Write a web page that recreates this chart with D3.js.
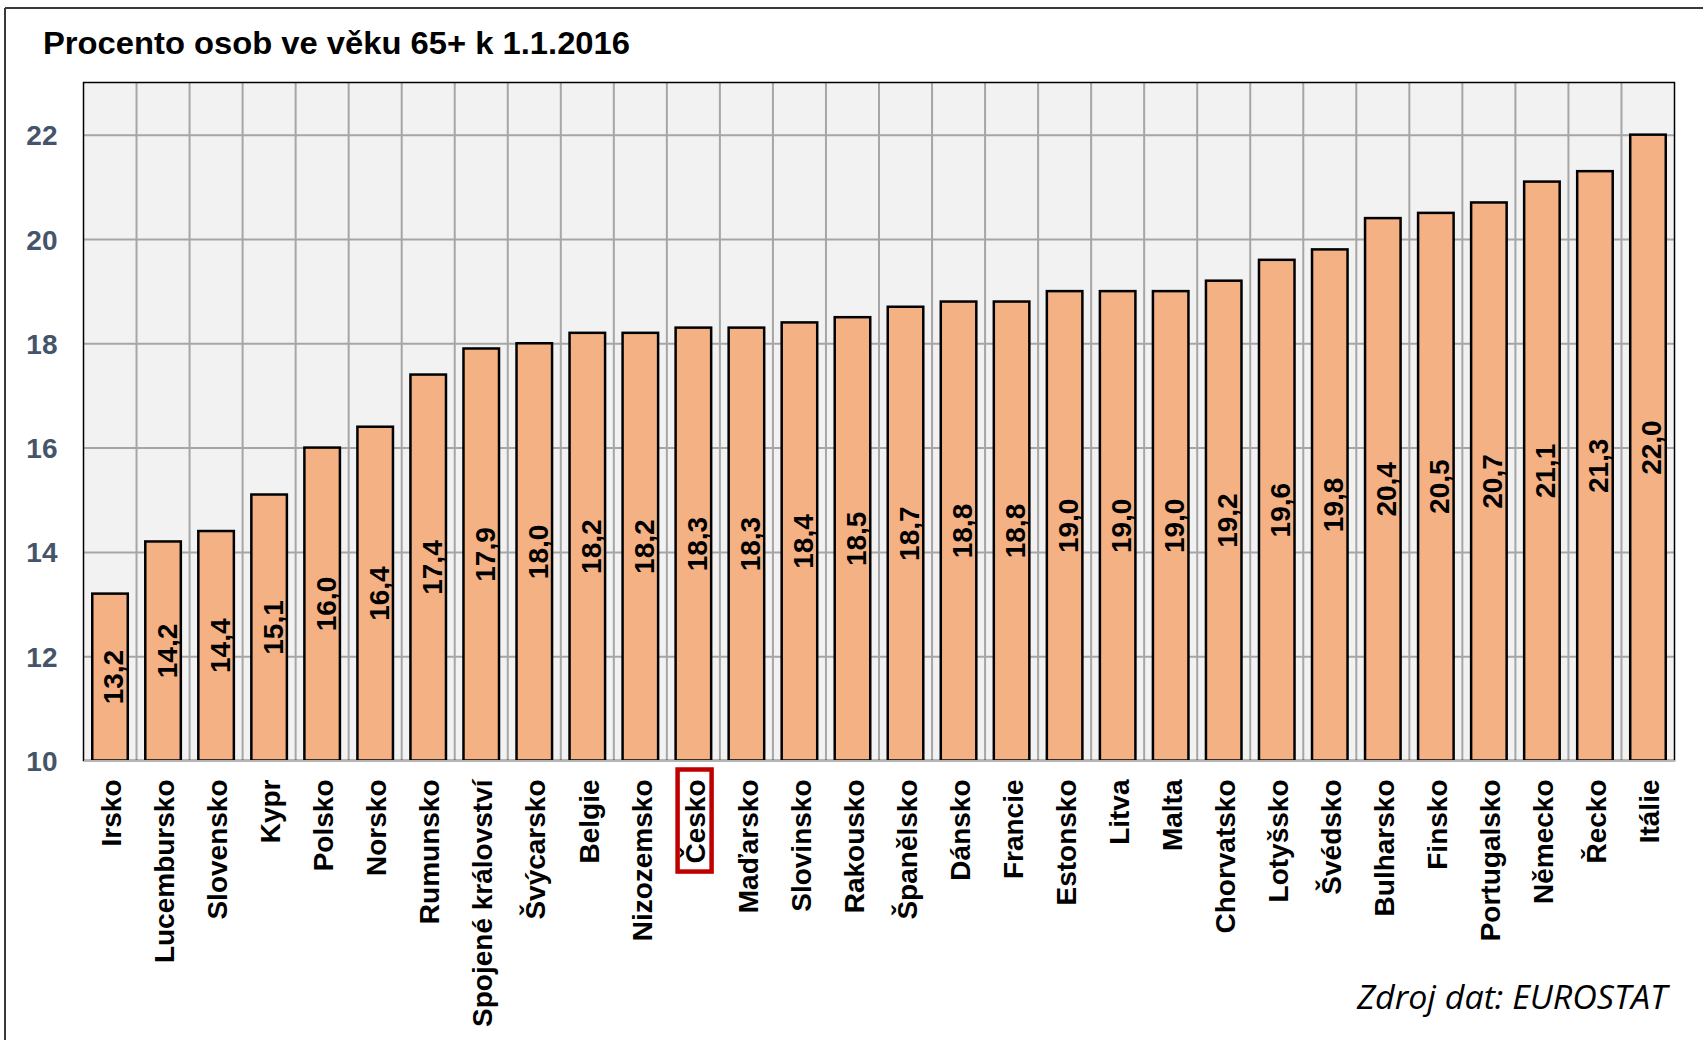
<!DOCTYPE html>
<html>
<head>
<meta charset="utf-8">
<script src="https://cdn.jsdelivr.net/npm/d3@7"></script>
<style>
  body { margin: 0; background: #ffffff; }
  svg { display: block; font-family: "Liberation Sans", Arial, sans-serif; }
  .y-axis text { font-size: 28px; font-weight: bold; fill: #44546A; }
  .x-axis text { font-size: 28px; font-weight: bold; fill: #000000; }
  .bar-label   { font-size: 28px; font-weight: bold; fill: #000000; }
</style>
</head>
<body>
<svg></svg>
<script>
// Countries, sorted by share of people aged 65+
var countries = ['Irsko','Lucembursko','Slovensko','Kypr','Polsko','Norsko','Rumunsko','Spojené království',
                 'Švýcarsko','Belgie','Nizozemsko','Česko','Maďarsko','Slovinsko','Rakousko','Španělsko',
                 'Dánsko','Francie','Estonsko','Litva','Malta','Chorvatsko','Lotyšsko','Švédsko',
                 'Bulharsko','Finsko','Portugalsko','Německo','Řecko','Itálie'];

// Percent of population 65+ on 1.1.2016
var values = [13.2, 14.2, 14.4, 15.1, 16.0, 16.4, 17.4, 17.9, 18.0, 18.2, 18.2, 18.3, 18.3, 18.4, 18.5, 18.7,
              18.8, 18.8, 19.0, 19.0, 19.0, 19.2, 19.6, 19.8, 20.4, 20.5, 20.7, 21.1, 21.3, 22.0];

var yTicks = [10, 12, 14, 16, 18, 20, 22];
var yDomain = [10, 23];
var highlighted = 'Česko';

var titleText  = 'Procento osob ve věku 65+ k 1.1.2016';
var sourceText = 'Zdroj dat: EUROSTAT';

var svgWidth = 1703, svgHeight = 1040;
var plot = { left: 83.5, right: 1674.5, top: 82.5, bottom: 760.5 };

var svg = d3.select('svg')
    .attr('width', svgWidth)
    .attr('height', svgHeight);

// outer frame of the picture: only the top and left edges are visible
var frame = svg.append('g').attr('class', 'frame');
frame.append('line')
    .attr('x1', 5).attr('y1', 8).attr('x2', svgWidth).attr('y2', 8)
    .attr('stroke', '#3a3a3a').attr('stroke-width', 2);
frame.append('line')
    .attr('x1', 5).attr('y1', 8).attr('x2', 5).attr('y2', svgHeight)
    .attr('stroke', '#3a3a3a').attr('stroke-width', 2);

svg.append('text')
    .attr('x', 43)
    .attr('y', 54)
    .attr('textLength', 587)
    .attr('lengthAdjust', 'spacingAndGlyphs')
    .style('font-size', '31px')
    .style('font-weight', 'bold')
    .attr('fill', '#000')
    .text(titleText);

var yScale = d3.scaleLinear()
    .domain(yDomain)
    .range([plot.bottom, plot.top]);

var xScale = d3.scaleBand()
    .domain(countries)
    .range([plot.left, plot.right])
    .paddingInner(0.33)
    .paddingOuter(0.165);

var innerWidth = plot.right - plot.left;
var innerHeight = plot.bottom - plot.top;

// plot background
svg.append('rect')
    .attr('x', plot.left).attr('y', plot.top)
    .attr('width', innerWidth).attr('height', innerHeight)
    .attr('fill', '#F2F2F2');

// vertical gridlines between categories
var step = xScale.step();
svg.append('g')
    .attr('class', 'v-grid')
    .selectAll('line')
    .data(countries.slice(1))
    .enter()
    .append('line')
    .attr('x1', function (d) { return xScale(d) - (step - xScale.bandwidth()) / 2; })
    .attr('x2', function (d) { return xScale(d) - (step - xScale.bandwidth()) / 2; })
    .attr('y1', plot.top)
    .attr('y2', plot.bottom)
    .attr('stroke', '#A6A6A6')
    .attr('stroke-width', 2);

// y axis with horizontal gridlines
var yAxis = d3.axisLeft(yScale)
    .tickValues(yTicks)
    .tickSize(-innerWidth)
    .tickPadding(26);

var yG = svg.append('g')
    .attr('class', 'y-axis')
    .attr('transform', 'translate(' + plot.left + ',0)')
    .call(yAxis);
yG.select('.domain').remove();
yG.selectAll('.tick line')
    .attr('stroke', function (d) { return d === yDomain[0] ? 'none' : '#A6A6A6'; })
    .attr('stroke-width', 2);
yG.selectAll('.tick text').attr('dy', '0.36em');

// plot border
svg.append('rect')
    .attr('x', plot.left).attr('y', plot.top)
    .attr('width', innerWidth).attr('height', innerHeight)
    .attr('fill', 'none')
    .attr('stroke', '#000')
    .attr('stroke-width', 1.5);

// bars
svg.append('g')
    .selectAll('rect')
    .data(values)
    .enter()
    .append('rect')
    .attr('x', function (d, i) { return xScale(countries[i]); })
    .attr('y', function (d) { return yScale(d); })
    .attr('width', xScale.bandwidth())
    .attr('height', function (d) { return yScale(yDomain[0]) - yScale(d); })
    .attr('fill', '#F4B183')
    .attr('stroke', '#000')
    .attr('stroke-width', 2.5);

// value labels, rotated and centred in the bar
var fmt = d3.format('.1f');
svg.append('g')
    .selectAll('text')
    .data(values)
    .enter()
    .append('text')
    .attr('class', 'bar-label')
    .attr('transform', function (d, i) {
        var cx = xScale(countries[i]) + xScale.bandwidth() / 2;
        var cy = (yScale(d) + yScale(yDomain[0])) / 2;
        return 'translate(' + cx + ',' + cy + ') rotate(-90)';
    })
    .attr('text-anchor', 'middle')
    .attr('dy', '0.48em')
    .text(function (d) { return fmt(d).replace('.', ','); });

// x axis
var xAxis = d3.axisBottom(xScale).tickSize(0);
var xG = svg.append('g')
    .attr('class', 'x-axis')
    .attr('transform', 'translate(0,' + plot.bottom + ')')
    .call(xAxis);
xG.select('.domain')
    .attr('stroke', '#B4B4B4')
    .attr('stroke-width', 2);
xG.selectAll('.tick text')
    .attr('transform', 'rotate(-90)')
    .attr('x', -19)
    .attr('y', 0)
    .attr('dy', '0.4em')
    .style('text-anchor', 'end');

// red box round the highlighted country
xG.selectAll('.tick')
    .filter(function (d) { return d === highlighted; })
    .each(function () {
        var t = d3.select(this).select('text');
        var bb = t.node().getBBox();
        d3.select(this).append('rect')
            .attr('transform', 'rotate(-90)')
            .attr('x', bb.x - 8)
            .attr('y', bb.y - 1)
            .attr('width', bb.width + 18)
            .attr('height', bb.height + 2)
            .attr('fill', 'none')
            .attr('stroke', '#C00000')
            .attr('stroke-width', 4.5);
    });

// source note
svg.append('text')
    .attr('x', 1667)
    .attr('y', 1009)
    .attr('text-anchor', 'end')
    .attr('textLength', 310)
    .attr('lengthAdjust', 'spacingAndGlyphs')
    .style('font-family', '"Open Sans", "Liberation Sans", sans-serif')
    .style('font-style', 'italic')
    .style('font-size', '32px')
    .attr('fill', '#000')
    .text(sourceText);
</script>
</body>
</html>
